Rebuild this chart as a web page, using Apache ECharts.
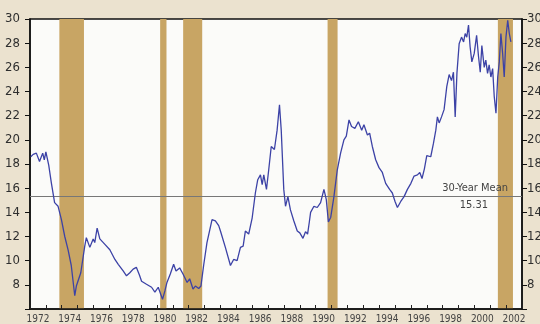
<!DOCTYPE html>
<html>
<head>
<meta charset="UTF-8">
<title>30-Year Mean</title>
<script src="https://cdn.jsdelivr.net/npm/echarts@6.0.0/dist/echarts.min.js"></script>
<style>
html, body { margin: 0; padding: 0; background: #ebe2cf; }
#chart { width: 540px; height: 324px; }
</style>
</head>
<body>
<div id="chart"></div>
<script>
// data (fractional year, value)
var years = [
	1972.05, 1972.2, 1972.4, 1972.6, 1972.8, 1972.9, 1973.0, 1973.18, 1973.35, 1973.55,
	1973.77, 1973.98, 1974.19, 1974.4, 1974.6, 1974.82, 1974.92, 1975.03, 1975.2, 1975.45,
	1975.55, 1975.77, 1975.98, 1976.08, 1976.23, 1976.4, 1976.72, 1977.03, 1977.35, 1977.56,
	1977.87, 1978.08, 1978.29, 1978.5, 1978.7, 1978.9, 1979.03, 1979.34, 1979.66, 1979.87,
	1980.08, 1980.35, 1980.5, 1980.63, 1980.84, 1981.05, 1981.2, 1981.43, 1981.64, 1981.9,
	1982.06, 1982.27, 1982.42, 1982.63, 1982.77, 1982.94, 1983.15, 1983.47, 1983.68, 1983.89,
	1984.0, 1984.31, 1984.63, 1984.83, 1985.05, 1985.26, 1985.43, 1985.57, 1985.78, 1986.0,
	1986.2, 1986.35, 1986.52, 1986.63, 1986.73, 1986.9, 1987.04, 1987.2, 1987.4, 1987.57,
	1987.72, 1987.83, 1987.99, 1988.1, 1988.25, 1988.41, 1988.62, 1988.84, 1989.0, 1989.2,
	1989.36, 1989.49, 1989.6, 1989.68, 1989.89, 1990.1, 1990.31, 1990.52, 1990.67, 1990.8,
	1990.95, 1991.15, 1991.36, 1991.57, 1991.78, 1991.93, 1992.1, 1992.26, 1992.47, 1992.69,
	1992.9, 1993.04, 1993.26, 1993.4, 1993.57, 1993.78, 1993.99, 1994.2, 1994.41, 1994.66,
	1994.83, 1995.0, 1995.15, 1995.36, 1995.57, 1995.78, 1996.0, 1996.2, 1996.41, 1996.56,
	1996.7, 1996.85, 1997.0, 1997.25, 1997.42, 1997.57, 1997.67, 1997.78, 1997.93, 1998.09,
	1998.26, 1998.41, 1998.56, 1998.68, 1998.79, 1998.9, 1999.04, 1999.19, 1999.32, 1999.42,
	1999.52, 1999.63, 1999.73, 1999.84, 1999.99, 2000.14, 2000.26, 2000.37, 2000.47, 2000.62,
	2000.72, 2000.83, 2000.93, 2001.04, 2001.15, 2001.25, 2001.36, 2001.47, 2001.57, 2001.67,
	2001.78, 2001.88, 2001.99, 2002.1, 2002.2, 2002.3
];
var values = [
	18.6, 18.8, 18.9, 18.2, 18.9, 18.35, 19.0, 17.9, 16.4, 14.8,
	14.5, 13.4, 12.0, 10.9, 9.6, 7.1, 7.9, 7.8, 9.0, 11.2,
	11.9, 11.1, 11.8, 11.5, 12.7, 11.8, 11.35, 10.9, 10.1, 9.7,
	9.15, 8.75, 9.0, 9.3, 9.45, 8.8, 8.3, 8.05, 7.8, 7.4,
	7.8, 6.8, 7.5, 8.2, 8.9, 9.7, 9.15, 9.4, 8.9, 8.2,
	8.5, 7.65, 7.9, 7.7, 7.9, 9.6, 11.5, 13.4, 13.3, 12.9,
	12.45, 11.1, 9.6, 10.1, 10.0, 11.1, 11.2, 12.45, 12.2, 13.55,
	15.6, 16.7, 17.1, 16.3, 17.1, 15.9, 17.5, 19.45, 19.2, 20.8,
	22.9, 20.8, 15.9, 14.5, 15.3, 14.2, 13.3, 12.45, 12.3, 11.85,
	12.4, 12.2, 13.2, 14.0, 14.5, 14.4, 14.8, 15.9, 15.05, 13.2,
	13.6, 15.3, 17.5, 18.9, 20.0, 20.3, 21.65, 21.1, 20.95, 21.5,
	20.8, 21.25, 20.4, 20.55, 19.45, 18.35, 17.7, 17.3, 16.4, 15.9,
	15.6, 14.9, 14.4, 14.9, 15.3, 15.9, 16.4, 17.0, 17.1, 17.3,
	16.8, 17.6, 18.7, 18.6, 19.7, 20.8, 21.9, 21.4, 21.9, 22.5,
	24.4, 25.4, 24.9, 25.6, 21.9, 25.5, 27.95, 28.5, 28.1, 28.8,
	28.5, 29.5, 27.7, 26.45, 27.15, 28.65, 26.9, 25.6, 27.8, 26.0,
	26.6, 25.5, 26.2, 25.2, 25.9, 23.6, 22.2, 25.2, 26.45, 28.8,
	27.15, 25.2, 28.5, 29.9, 28.8, 28.1
];
var yearLabels = [];
for (var y = 1972; y <= 2002; y++) { yearLabels.push(String(y)); }
var recessionStart = [1973.85, 1980.2, 1981.65, 1990.75, 2001.48];
var recessionEnd = [1975.4, 1980.6, 1982.85, 1991.38, 2002.43];
var meanValue = 15.31;
var meanLabel = '30-Year Mean';

var lineColor = '#3c42a6';
var font = "'Liberation Sans Narrow', 'DejaVu Sans Condensed', sans-serif";

var seriesData = years.map(function (t, i) { return [t, values[i]]; });
var bandData = recessionStart.map(function (s, i) {
	return [{ xAxis: s }, { xAxis: recessionEnd[i] }];
});
// line reads darker where it crosses the tan bands
var bandPieces = recessionStart.map(function (s, i) {
	return { gte: s, lte: recessionEnd[i], color: '#2e2a3a' };
});

function yAxisOpt(pos, margin) {
	return {
		type: 'value', position: pos, min: 6, max: 30, interval: 2,
		axisLine: { show: true, lineStyle: { color: '#111', width: 1.5 } },
		axisTick: { show: true, length: 5, lineStyle: { color: '#111' } },
		splitLine: { show: false },
		axisLabel: {
			margin: margin, fontSize: 13, color: '#2e2e2e', fontFamily: font,
			formatter: function (v) { return v === 6 ? '' : v; }
		}
	};
}

var option = {
	animation: false,
	backgroundColor: '#ebe2cf',
	grid: {
		left: 30, right: 18, top: 19, bottom: 15, containLabel: false, outerBoundsMode: 'none',
		show: true, backgroundColor: '#fbfbf9', borderColor: '#111', borderWidth: 1.5
	},
	visualMap: {
		type: 'piecewise', show: false, seriesIndex: 1, dimension: 0,
		pieces: bandPieces, outOfRange: { color: lineColor }
	},
	xAxis: [
		{ type: 'value', show: false, min: 1972, max: 2003, position: 'top' },
		{
			type: 'category', position: 'bottom', data: yearLabels, boundaryGap: true,
			axisLine: { show: true, lineStyle: { color: '#111', width: 1.5 } },
			axisTick: { show: true, inside: true, length: 4, interval: 0, lineStyle: { color: '#222' } },
			axisLabel: { interval: 1, fontSize: 10, color: '#444', margin: 5, fontFamily: font },
			splitLine: { show: false }
		}
	],
	yAxis: [yAxisOpt('left', 10), yAxisOpt('right', 5)],
	series: [
		{
			name: 'recession', type: 'line', xAxisIndex: 0, yAxisIndex: 0, data: [], z: 0,
			markArea: { silent: true, z: 0, itemStyle: { color: '#c8a564' }, data: bandData }
		},
		{
			name: 'value', type: 'line', xAxisIndex: 0, yAxisIndex: 0, z: 10,
			data: seriesData, showSymbol: false, symbol: 'none',
			lineStyle: { width: 1.3, color: lineColor },
			markLine: {
				silent: true, symbol: 'none', z: 5,
				lineStyle: { color: '#777', width: 1, type: 'solid' },
				label: { color: '#444', fontSize: 11, fontFamily: font },
				data: [
					{ yAxis: meanValue, label: { position: 'insideEndTop', formatter: meanLabel, distance: [14, 3] } },
					{ yAxis: meanValue, label: { position: 'insideEndBottom', formatter: String(meanValue), distance: [34, 3] } }
				]
			}
		}
	]
};

var myChart = echarts.init(document.getElementById('chart'));
myChart.setOption(option);
</script>
</body>
</html>
